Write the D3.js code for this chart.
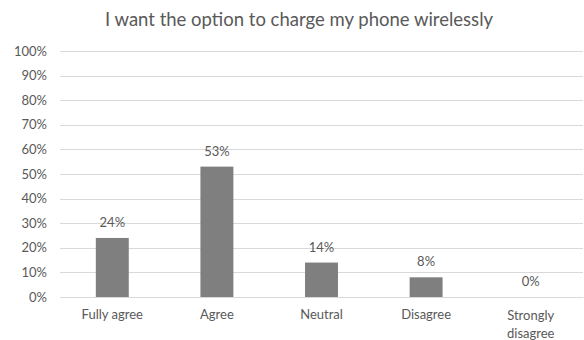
<!DOCTYPE html>
<html>
<head>
<meta charset="utf-8">
<script src="https://cdn.jsdelivr.net/npm/d3@7"></script>
<style>
  html, body { margin: 0; padding: 0; background: #fff; }
  svg { display: block; font-family: Lato, "Open Sans", sans-serif; }
</style>
</head>
<body>
<svg id="chart" width="584" height="340"></svg>
<script>
const title = "I want the option to charge my phone wirelessly";
const categories = ["Fully agree", "Agree", "Neutral", "Disagree", "Strongly disagree"];
const values = [0.24, 0.53, 0.14, 0.08, 0.00];
const yTicks = [0, 0.1, 0.2, 0.3, 0.4, 0.5, 0.6, 0.7, 0.8, 0.9, 1.0];

const svg = d3.select("#chart");
const margin = { top: 51, right: 1, bottom: 43, left: 60 };
const width = 584 - margin.left - margin.right;
const height = 340 - margin.top - margin.bottom;
const font = "Lato, 'Open Sans', sans-serif";
const textColor = "#595959";

const x = d3.scaleBand().domain(categories).range([0, width]).paddingInner(0.685).paddingOuter(0.3425);
const y = d3.scaleLinear().domain([0, 1]).range([height, 0]);

svg.append("text")
  .attr("x", 299).attr("y", 26)
  .attr("text-anchor", "middle")
  .attr("fill", textColor)
  .attr("font-size", 18.5)
  .text(title);

const g = svg.append("g").attr("transform", `translate(${margin.left},${margin.top})`);

// horizontal gridlines
g.append("g")
  .selectAll("line")
  .data(yTicks)
  .join("line")
  .attr("x1", 0).attr("x2", width)
  .attr("y1", d => Math.round(y(d)) + 0.5).attr("y2", d => Math.round(y(d)) + 0.5)
  .attr("stroke", "#d9d9d9").attr("stroke-width", 1);

// y axis labels
const yAxis = d3.axisLeft(y).tickValues(yTicks).tickFormat(d3.format(".0%")).tickSize(0).tickPadding(13);
g.append("g").call(yAxis)
  .call(s => s.select(".domain").remove())
  .call(s => s.selectAll("text").attr("fill", textColor).attr("font-size", 13).style("font-family", font));

// bars
g.selectAll("rect.bar")
  .data(categories)
  .join("rect")
  .attr("class", "bar")
  .attr("x", d => x(d))
  .attr("width", x.bandwidth())
  .attr("y", (d, i) => y(values[i]))
  .attr("height", (d, i) => y(0) - y(values[i]))
  .attr("fill", "#7f7f7f");

// value labels above bars
g.selectAll("text.val")
  .data(categories)
  .join("text")
  .attr("class", "val")
  .attr("x", d => x(d) + x.bandwidth() / 2)
  .attr("y", (d, i) => y(values[i]) - 11)
  .attr("text-anchor", "middle")
  .attr("fill", textColor)
  .attr("font-size", 13)
  .style("font-family", font)
  .text((d, i) => d3.format(".0%")(values[i]));

// category labels, long ones wrapped onto two lines
const xAxis = d3.axisBottom(x).tickSize(0).tickPadding(13);
const xg = g.append("g").attr("transform", `translate(0,${height})`).call(xAxis);
xg.select(".domain").attr("stroke", "#d9d9d9");
xg.selectAll("text")
  .attr("fill", textColor).attr("font-size", 13)
  .style("font-family", font)
  .each(function(d) {
    const t = d3.select(this);
    const words = d.split(" ");
    if (words.length > 1 && d.length > 12) {
      t.text(null);
      const y0 = +t.attr("y");
      words.forEach((w, i) => {
        t.append("tspan").attr("x", 0).attr("y", y0).attr("dy", (0.8 + i * 1.38) + "em").text(w);
      });
    }
  });
</script>
</body>
</html>
